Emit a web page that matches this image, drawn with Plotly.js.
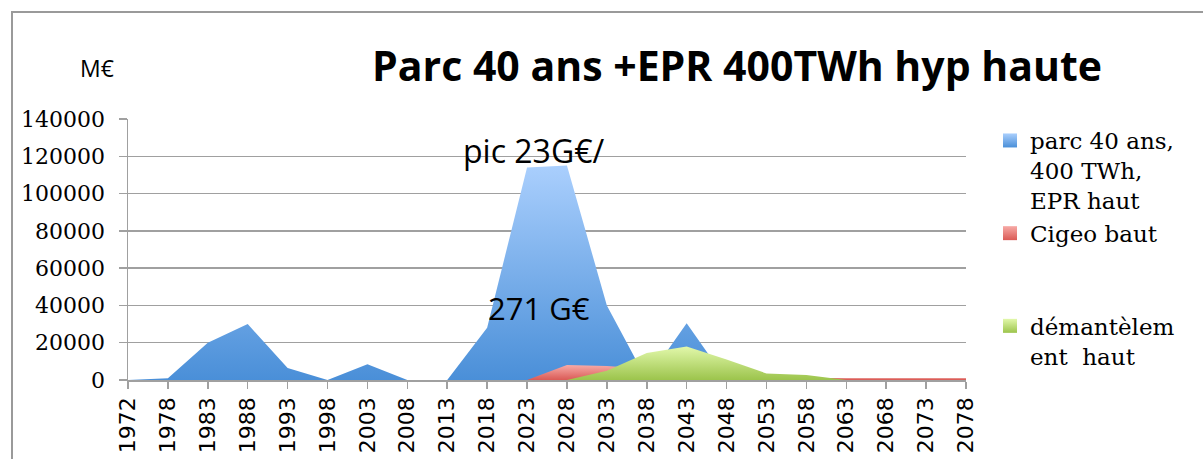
<!DOCTYPE html>
<html>
<head>
<meta charset="utf-8">
<script src="https://cdn.plot.ly/plotly-3.0.1.min.js"></script>
<style>html,body{margin:0;padding:0;background:#fff;}#chart{width:1203px;height:459px;}</style>
</head>
<body>
<div id="chart"></div>
<script>
var years = ['1972','1978','1983','1988','1993','1998','2003','2008','2013','2018','2023','2028','2033','2038','2043','2048','2053','2058','2063','2068','2073','2078'];
var parc = [0,1000,20000,30000,6500,0,8500,0,0,28000,114000,115000,40000,0,30500,0,0,0,0,0,0,0];
var cigeo = [0,0,0,0,0,0,0,0,0,0,0,8000,7500,6000,4000,2500,1500,1200,1000,1000,1000,1000];
var demant = [0,0,0,0,0,0,0,0,0,0,0,0,5000,14500,18000,11000,3500,2700,0,0,0,0];
var seriesNames = ['parc 40 ans,<br>400 TWh,<br>EPR haut', 'Cigeo baut<br> <br> ', 'démantèlem<br>ent  haut'];
var yTicks = [0,20000,40000,60000,80000,100000,120000,140000];

var blueDark='#4a8fd8', blueLight='#aacffd';
var redDark='#da5a55', redLight='#f7aaa6';
var greenDark='#9cc44c', greenLight='#e2f8ab';

function area(y, dark, light){
  return {x: years, y: y, type:'scatter', mode:'none', fill:'tozeroy',
    fillgradient:{type:'vertical', colorscale:[[0,dark],[1,light]]},
    showlegend:false, hoverinfo:'skip'};
}
function legendItem(name, dark, light){
  return {x:[null], y:[null], type:'scatter', mode:'markers', name:name,
    marker:{symbol:'square', size:14, color:light, gradient:{type:'vertical', color:dark}}};
}
var data = [
  area(parc, blueDark, blueLight),
  area(cigeo, redDark, redLight),
  area(demant, greenDark, greenLight),
  legendItem(seriesNames[0], blueDark, blueLight),
  legendItem(seriesNames[1], redDark, redLight),
  legendItem(seriesNames[2], greenDark, greenLight)
];

var L=128, R=966, T=119, B=380;
function px(x){return (x-L)/(R-L);}
function py(y){return (B-y)/(B-T);}

var layout = {
  width:1203, height:459,
  margin:{l:L, r:1203-R, t:T, b:459-B, pad:0},
  paper_bgcolor:'#fff', plot_bgcolor:'#fff',
  title:{text:'Parc 40 ans +EPR 400TWh hyp haute', x:737/1203, xanchor:'center', y:1-67/459, yanchor:'middle',
    font:{family:'Open Sans', size:41, weight:'bold', color:'#000'}},
  xaxis:{type:'category', range:[0,21], showgrid:false, showline:true, linecolor:'#a0a0a0', linewidth:1.5,
    ticks:'outside', ticklen:7, tickcolor:'#a0a0a0', tickwidth:1.5, tickangle:-90,
    tickfont:{family:'DejaVu Sans', size:22, color:'#000'}, fixedrange:true},
  yaxis:{range:[0,140000], tickvals:yTicks, ticktext:yTicks.map(String), showgrid:true, gridcolor:'#a0a0a0', gridwidth:1.5,
    showline:true, linecolor:'#a0a0a0', linewidth:1.5, zeroline:false,
    ticks:'outside', ticklen:8, tickcolor:'#a0a0a0', tickwidth:1.5, ticklabelstandoff:9,
    tickfont:{family:'DejaVu Serif', size:22, color:'#000'}, fixedrange:true},
  legend:{x:px(990), xanchor:'left', y:py(119), yanchor:'top', valign:'top', bgcolor:'rgba(0,0,0,0)',
    font:{family:'DejaVu Serif', size:23, color:'#000'}, tracegroupgap:0},
  showlegend:true,
  annotations:[
    {text:'M€', xref:'paper', yref:'paper', x:px(97), y:py(68), xanchor:'center', yanchor:'middle', showarrow:false,
      font:{family:'Open Sans', size:23, color:'#000'}},
    {text:'pic 23G€/', xref:'paper', yref:'paper', x:px(533), y:py(150), xanchor:'center', yanchor:'middle', showarrow:false,
      font:{family:'Open Sans', size:32, color:'#000'}},
    {text:'271 G€', xref:'paper', yref:'paper', x:px(539), y:py(308), xanchor:'center', yanchor:'middle', showarrow:false,
      font:{family:'Open Sans', size:31, color:'#000'}}
  ],
  shapes:[
    {type:'rect', xref:'paper', yref:'paper', x0:px(12), x1:px(1230), y0:py(490), y1:py(12),
      line:{color:'#9a9a9a', width:2}, fillcolor:'rgba(0,0,0,0)', layer:'below'}
  ]
};
Plotly.newPlot('chart', data, layout, {staticPlot:true, displayModeBar:false});
</script>
</body>
</html>
